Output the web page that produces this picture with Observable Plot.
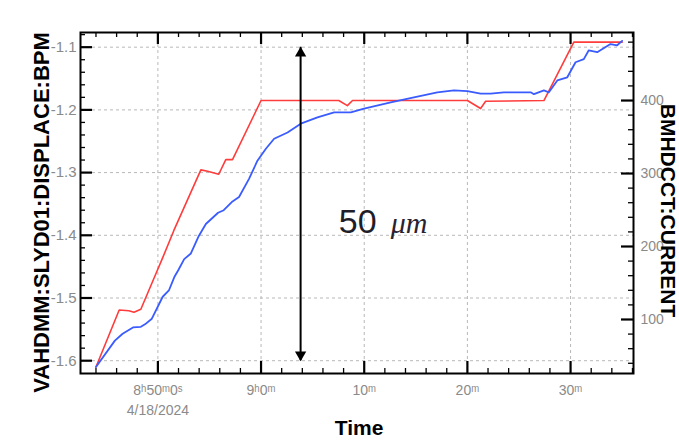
<!DOCTYPE html>
<html><head><meta charset="utf-8">
<script src="https://cdn.jsdelivr.net/npm/d3@7"></script>
<script src="https://cdn.jsdelivr.net/npm/@observablehq/plot@0.6"></script>
<style>body{margin:0;background:#fff;overflow:hidden}</style>
</head><body><div id="chart"></div>
<script>
const day = "2024-04-18";

// Red series: BMHDCCT:CURRENT (right axis)
const redTimes = ["08:44:00","08:46:15","08:47:11","08:47:41","08:48:21","08:49:49","08:50:27","08:51:33","08:54:10","08:54:49","08:55:54","08:56:35","08:57:14","09:00:00","09:07:32","09:08:22","09:08:52","09:20:00","09:21:17","09:21:46","09:27:25","09:30:19","09:35:00"];
const redCurrent = [35,113,112,110,114,163,184,222,305,303,299,319,319,400,400,393,400,400,389,399,400,480,480];

// Blue series: VAHDMM:SLYD01:DISPLACE:BPM (left axis)
const blueTimes = ["08:44:00","08:45:50","08:46:35","08:47:35","08:48:21","08:48:45","08:49:25","08:50:28","08:51:04","08:51:35","08:52:00","08:52:33","08:53:12","08:53:58","08:54:39","08:55:50","08:56:23","08:57:14","08:57:52","08:58:50","08:59:39","09:00:28","09:01:16","09:02:34","09:03:51","09:05:28","09:07:05","09:08:42","09:09:59","09:12:34","09:14:49","09:17:05","09:18:42","09:20:00","09:21:17","09:22:15","09:23:32","09:26:08","09:26:27","09:27:25","09:27:54","09:28:43","09:29:41","09:30:29","09:31:17","09:31:46","09:32:35","09:33:52","09:34:31","09:35:00"];
const blueDisplace = [-1.610,-1.568,-1.557,-1.547,-1.546,-1.542,-1.533,-1.498,-1.488,-1.467,-1.455,-1.438,-1.429,-1.401,-1.382,-1.364,-1.360,-1.346,-1.339,-1.310,-1.281,-1.262,-1.246,-1.236,-1.222,-1.212,-1.204,-1.204,-1.198,-1.188,-1.180,-1.172,-1.169,-1.170,-1.174,-1.174,-1.172,-1.172,-1.175,-1.169,-1.172,-1.153,-1.148,-1.124,-1.119,-1.105,-1.108,-1.095,-1.097,-1.090];

// Axes
const xDomainTimes = ["08:42:30","09:36:06"];
const xTickTimes = ["08:50:00","09:00:00","09:10:00","09:20:00","09:30:00"];
const xTickLabels = ["8ʰ50ᵐ0ˢ\n4/18/2024","9ʰ0ᵐ","10ᵐ","20ᵐ","30ᵐ"];
const leftDomain = [-1.6204, -1.0766];
const leftTicks = [-1.1,-1.2,-1.3,-1.4,-1.5,-1.6];
const rightDomain = [26.0, 493.2];
const rightTicks = [100,200,300,400];
const leftTitle = "VAHDMM:SLYD01:DISPLACE:BPM";
const rightTitle = "BMHDCCT:CURRENT";
const xTitle = "Time";

// Annotation
const arrowTime = "09:03:50";
const arrowRange = [-1.1, -1.6];
const annotNumber = {time: "09:07:32", value: -1.397, text: "50"};
const annotUnit = {time: "09:12:34", value: -1.397, text: "μm"};

const toDate = s => new Date(`${day}T${s}Z`);
const toLeft = r => leftDomain[0] + (r - rightDomain[0]) / (rightDomain[1] - rightDomain[0]) * (leftDomain[1] - leftDomain[0]);
const fromLeft = v => rightDomain[0] + (v - leftDomain[0]) / (leftDomain[1] - leftDomain[0]) * (rightDomain[1] - rightDomain[0]);

const red = redTimes.map((t, i) => ({t: toDate(t), v: toLeft(redCurrent[i])}));
const blue = blueTimes.map((t, i) => ({t: toDate(t), v: blueDisplace[i]}));
const xMajors = xTickTimes.map(toDate);
const labelMap = new Map(xMajors.map((d, i) => [+d, xTickLabels[i]]));
const xMinors = d3.range(0, 27).map(k => new Date(+toDate("08:44:00") + k * 120000)).filter(d => !labelMap.has(+d));
const leftMinors = d3.range(-1.62, -1.075, 0.02).map(v => +v.toFixed(2)).filter(v => Math.abs(v * 10 - Math.round(v * 10)) > 1e-6 && v > leftDomain[0] + 0.003);
const rightMinors = d3.range(40, 481, 20).filter(v => v % 100 !== 0);

const W = 679, H = 441, mL = 80, mR = 46, mT = 32, mB = 68;
const FW = W - mL - mR, FH = H - mT - mB;
const majorLen = 12, minorLen = 5;
const gray = "#8a8a8a";

const chart = Plot.plot({
  width: W, height: H,
  marginLeft: mL, marginRight: mR, marginTop: mT, marginBottom: mB,
  style: {fontFamily: "'Liberation Sans', Arial, sans-serif", background: "white", overflow: "visible"},
  x: {type: "utc", domain: xDomainTimes.map(toDate)},
  y: {domain: leftDomain},
  marks: [
    Plot.gridX(xMajors, {stroke: "#b8b8b8", strokeOpacity: 1, strokeDasharray: "3,3"}),
    Plot.gridY(leftTicks, {stroke: "#b8b8b8", strokeOpacity: 1, strokeDasharray: "3,3"}),
    Plot.line(red, {x: "t", y: "v", stroke: "#ff3c3c", strokeWidth: 1.6}),
    Plot.line(blue, {x: "t", y: "v", stroke: "#3a5cff", strokeWidth: 1.8}),
    // arrow
    Plot.ruleX([arrowTime], {x: toDate, y1: arrowRange[0], y2: arrowRange[1], stroke: "black", strokeWidth: 2}),
    Plot.dot([arrowRange[0]], {x: () => toDate(arrowTime), y: d => d, symbol: "triangle", r: 4.2, fill: "black", stroke: "none", dy: 6}),
    Plot.dot([arrowRange[1]], {x: () => toDate(arrowTime), y: d => d, symbol: "triangle", r: 4.2, fill: "black", stroke: "none", rotate: 180, dy: -6}),
    // annotation text
    Plot.text([annotNumber], {x: d => toDate(d.time), y: "value", text: "text", textAnchor: "start", lineAnchor: "bottom", fontSize: 34, fill: "#1e1e2a", fontFamily: "'Liberation Sans', Arial, sans-serif"}),
    Plot.text([annotUnit], {x: d => toDate(d.time), y: "value", text: "text", textAnchor: "start", lineAnchor: "bottom", fontSize: 30, fontStyle: "italic", fill: "#2a2230", fontFamily: "'Liberation Serif', serif"}),
    // inward ticks
    Plot.tickY(leftTicks, {y: d => d, insetRight: FW - majorLen, stroke: "black", strokeWidth: 2.2}),
    Plot.tickY(leftMinors, {y: d => d, insetRight: FW - minorLen, stroke: "black", strokeWidth: 1.3}),
    Plot.tickY(rightTicks.map(toLeft), {y: d => d, insetLeft: FW - majorLen, stroke: "black", strokeWidth: 2.2}),
    Plot.tickY(rightMinors.map(toLeft), {y: d => d, insetLeft: FW - minorLen, stroke: "black", strokeWidth: 1.3}),
    Plot.tickX(xMajors, {x: d => d, insetTop: FH - majorLen, stroke: "black", strokeWidth: 2.2}),
    Plot.tickX(xMajors, {x: d => d, insetBottom: FH - majorLen, stroke: "black", strokeWidth: 2.2}),
    Plot.tickX(xMinors, {x: d => d, insetTop: FH - minorLen, stroke: "black", strokeWidth: 1.3}),
    Plot.tickX(xMinors, {x: d => d, insetBottom: FH - minorLen, stroke: "black", strokeWidth: 1.3}),
    Plot.frame({stroke: "black", strokeWidth: 2}),
    // axis labels
    Plot.axisY(leftTicks, {anchor: "left", tickSize: 0, tickPadding: 4, tickFormat: d => d.toFixed(1), color: gray, fontSize: 15, label: null}),
    Plot.axisY(rightTicks.map(toLeft), {anchor: "right", tickSize: 0, tickPadding: 7, tickFormat: d => String(Math.round(fromLeft(d))), color: gray, fontSize: 14, label: null}),
    Plot.axisX(xMajors, {anchor: "bottom", tickSize: 0, tickPadding: 8, tickFormat: d => labelMap.get(+d), color: gray, fontSize: 14, lineHeight: 1.4, label: null}),
    // titles
    Plot.text([leftTitle], {text: d => d, frameAnchor: "left", dx: -39, dy: 9.5, rotate: -90, textAnchor: "middle", fontWeight: "bold", fontSize: 22, fill: "black"}),
    Plot.text([rightTitle], {text: d => d, frameAnchor: "right", dx: 34, dy: 7.5, rotate: 90, textAnchor: "middle", fontWeight: "bold", fontSize: 21, fill: "black"}),
    Plot.text([xTitle], {text: d => d, frameAnchor: "bottom", dx: 2, dy: 61, textAnchor: "middle", fontWeight: "bold", fontSize: 21, fill: "black"})
  ]
});
document.getElementById("chart").append(chart);
</script>
</body></html>
